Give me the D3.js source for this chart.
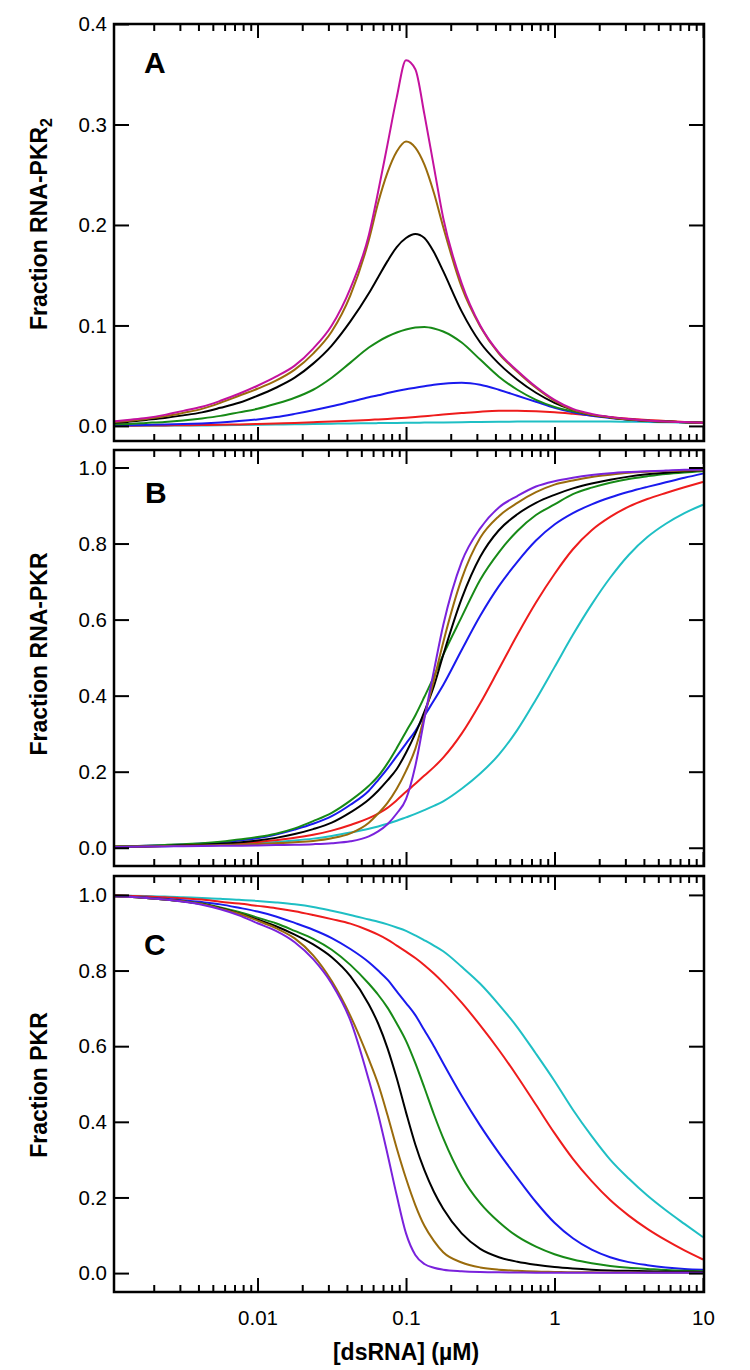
<!DOCTYPE html>
<html><head><meta charset="utf-8">
<script src="https://cdn.jsdelivr.net/npm/d3@7"></script>
<style>
body{margin:0;background:#fff}
svg{display:block}
text{font-family:"Liberation Sans",Arial,Helvetica,sans-serif;fill:#000}
</style>
</head><body>
<svg id="chart" width="750" height="1370"></svg>
<script>
// ---------- data ----------
const xValues = [0.001, 0.00133, 0.00178, 0.00237, 0.00316, 0.00422, 0.00562, 0.0075, 0.01, 0.0133, 0.0178, 0.0237, 0.0316, 0.0422, 0.0562, 0.0649, 0.075, 0.0866, 0.1, 0.1155, 0.133, 0.154, 0.178, 0.237, 0.316, 0.422, 0.562, 0.75, 1, 1.33, 1.78, 2.37, 3.16, 4.22, 5.62, 7.5, 10];

// Panel A: Fraction RNA-PKR2
const aCyan    = [0.0001,0.00015,0.0002,0.0003,0.0004,0.0005,0.0007,0.0009,0.0011,0.0013,0.0016,0.0019,0.0022,0.0025,0.0027,0.0028,0.0029,0.003,0.0031,0.0032,0.0033,0.0034,0.0035,0.0037,0.0039,0.0041,0.0043,0.0044,0.0045,0.0045,0.0045,0.0044,0.0042,0.004,0.0037,0.0034,0.0031];
const aRed     = [0.0002,0.0003,0.0004,0.0005,0.0007,0.0009,0.0012,0.0015,0.002,0.0025,0.003,0.0037,0.0044,0.0052,0.006,0.0065,0.007,0.0076,0.0082,0.0089,0.0097,0.0105,0.0113,0.0128,0.0142,0.015,0.015,0.0145,0.0135,0.012,0.0103,0.0087,0.0072,0.006,0.005,0.004,0.0033];
const aBlue    = [0.0005,0.0007,0.001,0.0013,0.0018,0.0025,0.0035,0.0048,0.0065,0.0088,0.012,0.0155,0.0195,0.024,0.0285,0.0305,0.0327,0.0347,0.0365,0.038,0.0395,0.041,0.042,0.043,0.041,0.036,0.03,0.024,0.018,0.0135,0.01,0.0078,0.0062,0.005,0.0042,0.0036,0.003];
const aGreen   = [0.0015,0.002,0.003,0.004,0.0055,0.0075,0.01,0.0135,0.017,0.022,0.028,0.036,0.048,0.063,0.078,0.084,0.089,0.093,0.096,0.098,0.0985,0.097,0.094,0.083,0.066,0.049,0.036,0.026,0.019,0.0145,0.011,0.0085,0.0065,0.0052,0.0043,0.0036,0.003];
const aBlack   = [0.003,0.004,0.006,0.008,0.0105,0.0135,0.018,0.023,0.03,0.038,0.048,0.062,0.08,0.104,0.132,0.148,0.164,0.178,0.187,0.191,0.187,0.173,0.154,0.114,0.083,0.062,0.046,0.033,0.023,0.016,0.011,0.0085,0.0065,0.0052,0.0043,0.0036,0.003];
const aBrown   = [0.0035,0.005,0.007,0.0095,0.013,0.017,0.023,0.03,0.037,0.045,0.056,0.072,0.094,0.13,0.185,0.222,0.252,0.273,0.283,0.277,0.26,0.232,0.198,0.138,0.099,0.072,0.054,0.038,0.025,0.016,0.011,0.0085,0.0065,0.0052,0.0043,0.0036,0.003];
const aMagenta = [0.004,0.006,0.008,0.011,0.015,0.019,0.025,0.032,0.04,0.049,0.06,0.077,0.1,0.137,0.19,0.233,0.28,0.327,0.364,0.355,0.31,0.258,0.207,0.142,0.1,0.073,0.055,0.039,0.026,0.017,0.012,0.009,0.007,0.0055,0.0045,0.0038,0.0032];

// Panel B: Fraction RNA-PKR
const bCyan    = [0.002,0.0025,0.003,0.004,0.005,0.006,0.0078,0.0098,0.012,0.015,0.019,0.024,0.031,0.04,0.05,0.056,0.063,0.071,0.08,0.089,0.099,0.11,0.122,0.155,0.195,0.245,0.31,0.39,0.475,0.56,0.64,0.71,0.77,0.817,0.852,0.88,0.902];
const bRed     = [0.002,0.0027,0.0035,0.0045,0.0057,0.0072,0.0092,0.012,0.015,0.02,0.026,0.034,0.045,0.06,0.078,0.09,0.105,0.125,0.147,0.168,0.19,0.212,0.237,0.3,0.38,0.47,0.56,0.645,0.72,0.785,0.835,0.87,0.897,0.917,0.933,0.948,0.962];
const bBlue    = [0.003,0.004,0.005,0.0065,0.0085,0.011,0.014,0.019,0.025,0.035,0.048,0.063,0.083,0.113,0.15,0.178,0.208,0.241,0.274,0.307,0.347,0.387,0.428,0.52,0.61,0.688,0.752,0.808,0.85,0.88,0.903,0.921,0.936,0.949,0.961,0.973,0.984];
const bGreen   = [0.003,0.004,0.0055,0.0075,0.0095,0.012,0.016,0.022,0.028,0.037,0.051,0.07,0.092,0.124,0.163,0.188,0.222,0.262,0.305,0.348,0.397,0.45,0.507,0.607,0.705,0.777,0.833,0.875,0.903,0.93,0.947,0.96,0.97,0.977,0.983,0.987,0.99];
const bBlack   = [0.002,0.0027,0.0035,0.0048,0.0063,0.0082,0.0103,0.014,0.019,0.026,0.036,0.049,0.066,0.093,0.127,0.15,0.177,0.207,0.25,0.3,0.358,0.425,0.507,0.655,0.765,0.835,0.877,0.907,0.928,0.945,0.958,0.968,0.976,0.982,0.986,0.99,0.993];
const bBrown   = [0.003,0.0035,0.004,0.0045,0.005,0.006,0.007,0.0085,0.01,0.012,0.0145,0.018,0.025,0.038,0.066,0.09,0.118,0.155,0.202,0.26,0.345,0.44,0.54,0.707,0.815,0.872,0.907,0.935,0.955,0.966,0.975,0.981,0.986,0.989,0.991,0.992,0.993];
const bPurple  = [0.002,0.0025,0.003,0.0035,0.004,0.0045,0.005,0.0055,0.006,0.007,0.008,0.0095,0.012,0.017,0.03,0.043,0.062,0.09,0.128,0.215,0.34,0.465,0.585,0.752,0.84,0.895,0.925,0.95,0.964,0.973,0.98,0.985,0.988,0.99,0.992,0.994,0.995];

// Panel C: Fraction PKR
const cCyan    = [0.999,0.998,0.997,0.996,0.994,0.992,0.99,0.987,0.984,0.98,0.975,0.968,0.958,0.947,0.935,0.929,0.922,0.914,0.905,0.893,0.88,0.866,0.851,0.81,0.765,0.71,0.65,0.58,0.508,0.432,0.362,0.3,0.25,0.205,0.166,0.13,0.095];
const cRed     = [0.999,0.998,0.996,0.994,0.991,0.988,0.982,0.977,0.971,0.965,0.957,0.947,0.936,0.924,0.906,0.895,0.882,0.866,0.85,0.833,0.814,0.792,0.768,0.715,0.655,0.59,0.52,0.445,0.37,0.302,0.243,0.193,0.152,0.117,0.087,0.06,0.036];
const cBlue    = [0.998,0.996,0.993,0.99,0.986,0.981,0.975,0.966,0.956,0.943,0.926,0.908,0.886,0.857,0.822,0.8,0.776,0.745,0.714,0.682,0.642,0.6,0.555,0.469,0.39,0.318,0.252,0.188,0.133,0.092,0.062,0.042,0.029,0.021,0.015,0.011,0.009];
const cGreen   = [0.997,0.995,0.992,0.988,0.983,0.977,0.967,0.955,0.94,0.925,0.905,0.884,0.855,0.815,0.765,0.736,0.702,0.66,0.614,0.555,0.49,0.42,0.357,0.255,0.185,0.135,0.097,0.07,0.05,0.036,0.026,0.019,0.014,0.011,0.008,0.006,0.005];
const cBlack   = [0.997,0.995,0.992,0.988,0.983,0.976,0.965,0.951,0.935,0.917,0.895,0.869,0.835,0.785,0.71,0.66,0.595,0.515,0.425,0.34,0.272,0.215,0.17,0.105,0.064,0.042,0.03,0.022,0.016,0.012,0.009,0.007,0.006,0.005,0.004,0.0035,0.003];
const cBrown   = [0.997,0.995,0.992,0.988,0.983,0.976,0.964,0.95,0.932,0.912,0.885,0.84,0.772,0.68,0.565,0.5,0.418,0.33,0.25,0.18,0.125,0.085,0.055,0.028,0.015,0.009,0.006,0.004,0.003,0.002,0.002,0.0015,0.0015,0.001,0.001,0.001,0.001];
const cPurple  = [0.997,0.995,0.992,0.988,0.982,0.974,0.962,0.946,0.925,0.905,0.875,0.83,0.765,0.668,0.51,0.42,0.315,0.205,0.105,0.048,0.024,0.014,0.009,0.005,0.003,0.002,0.0015,0.001,0.001,0.001,0.001,0.001,0.001,0.001,0.001,0.001,0.001];

const yTicksA = [0, 0.1, 0.2, 0.3, 0.4];
const yTicksBC = [0, 0.2, 0.4, 0.6, 0.8, 1.0];
const xMajorTicks = [0.01, 0.1, 1, 10];
const xTickLabels = ["0.01", "0.1", "1", "10"];

// ---------- layout ----------
const svg = d3.select("#chart");
const left = 114, right = 704;
const x = d3.scaleLog().domain([0.00108, 10.155]).range([left, right]);

const colors = {
  cyan: "#1fbfc4", red: "#ee1c1c", blue: "#1a1aee", green: "#178a17",
  black: "#000000", brown: "#9a6b0c", magenta: "#c4129e", purple: "#7a22dc"
};

const panels = [
  {top: 24, bottom: 441, domain: [-0.015, 0.4], ticks: yTicksA,
   label: "A", lx: 144, ly: 73, ylab: ["Fraction RNA-PKR", "2"], ylabY: 224,
   series: [["cyan", aCyan], ["red", aRed], ["blue", aBlue], ["green", aGreen], ["black", aBlack], ["brown", aBrown], ["magenta", aMagenta]]},
  {top: 450, bottom: 866, domain: [-0.048, 1.046], ticks: yTicksBC,
   label: "B", lx: 145, ly: 503, ylab: ["Fraction RNA-PKR"], ylabY: 654,
   series: [["cyan", bCyan], ["red", bRed], ["blue", bBlue], ["green", bGreen], ["black", bBlack], ["brown", bBrown], ["purple", bPurple]]},
  {top: 876, bottom: 1292, domain: [-0.05, 1.05], ticks: yTicksBC,
   label: "C", lx: 144, ly: 955, ylab: ["Fraction PKR"], ylabY: 1085,
   series: [["cyan", cCyan], ["red", cRed], ["blue", cBlue], ["green", cGreen], ["black", cBlack], ["brown", cBrown], ["purple", cPurple]]}
];

const minorTicks = [];
[0.001, 0.01, 0.1, 1].forEach(d => { for (let m = 2; m <= 9; m++) { const v = d * m; if (v > 0.00108) minorTicks.push(v); } });

panels.forEach((p, i) => {
  const y = d3.scaleLinear().domain(p.domain).range([p.bottom, p.top]);
  const g = svg.append("g");

  const clipId = "clip" + i;
  svg.append("clipPath").attr("id", clipId).append("rect")
    .attr("x", left).attr("y", p.top).attr("width", right - left).attr("height", p.bottom - p.top);

  const line = d3.line().x(d => x(d[0])).y(d => y(d[1])).curve(d3.curveMonotoneX);
  const cg = g.append("g").attr("clip-path", `url(#${clipId})`);
  p.series.forEach(([c, vals]) => {
    cg.append("path").datum(xValues.map((xv, k) => [xv, vals[k]]))
      .attr("d", line).attr("fill", "none").attr("stroke", colors[c])
      .attr("stroke-width", 2).attr("stroke-linejoin", "round");
  });

  const yl = g.append("g").attr("transform", `translate(${left},0)`)
    .call(d3.axisLeft(y).tickValues(p.ticks).tickSize(-15).tickPadding(7).tickFormat(d3.format(".1f")));
  const yr = g.append("g").attr("transform", `translate(${right},0)`)
    .call(d3.axisRight(y).tickValues(p.ticks).tickSize(-15).tickFormat(""));

  const isLast = i === panels.length - 1;
  const xbMaj = g.append("g").attr("transform", `translate(0,${p.bottom})`)
    .call(d3.axisBottom(x).tickValues(xMajorTicks).tickSize(-14).tickPadding(18)
      .tickFormat((d, k) => isLast ? xTickLabels[k] : ""));
  const xbMin = g.append("g").attr("transform", `translate(0,${p.bottom})`)
    .call(d3.axisBottom(x).tickValues(minorTicks).tickSize(-7).tickFormat(""));
  const xtMaj = g.append("g").attr("transform", `translate(0,${p.top})`)
    .call(d3.axisTop(x).tickValues(xMajorTicks).tickSize(-14).tickFormat(""));
  const xtMin = g.append("g").attr("transform", `translate(0,${p.top})`)
    .call(d3.axisTop(x).tickValues(minorTicks).tickSize(-7).tickFormat(""));

  [yl, yr, xbMaj, xbMin, xtMaj, xtMin].forEach(a => {
    a.select(".domain").remove();
    a.selectAll(".tick line").attr("stroke", "#000").attr("stroke-width", 2);
    a.selectAll(".tick text").attr("font-size", 20.5).attr("fill", "#000")
      .style("font-family", '"Liberation Sans", Arial, sans-serif');
  });

  g.append("rect").attr("x", left).attr("y", p.top)
    .attr("width", right - left).attr("height", p.bottom - p.top)
    .attr("fill", "none").attr("stroke", "#000").attr("stroke-width", 2.5);

  g.append("text").attr("x", p.lx).attr("y", p.ly)
    .attr("font-size", 30).attr("font-weight", "bold").text(p.label);

  const t = g.append("text").attr("transform", `translate(47,${p.ylabY}) rotate(-90)`)
    .attr("text-anchor", "middle").attr("font-size", 23).attr("font-weight", "bold");
  t.append("tspan").text(p.ylab[0]);
  if (p.ylab[1]) t.append("tspan").attr("dy", "0.3em").attr("font-size", 16).text(p.ylab[1]);
});

svg.append("text").attr("x", 406).attr("y", 1360).attr("text-anchor", "middle")
  .attr("font-size", 23).attr("font-weight", "bold").text("[dsRNA] (\u00b5M)");
</script>
</body></html>
